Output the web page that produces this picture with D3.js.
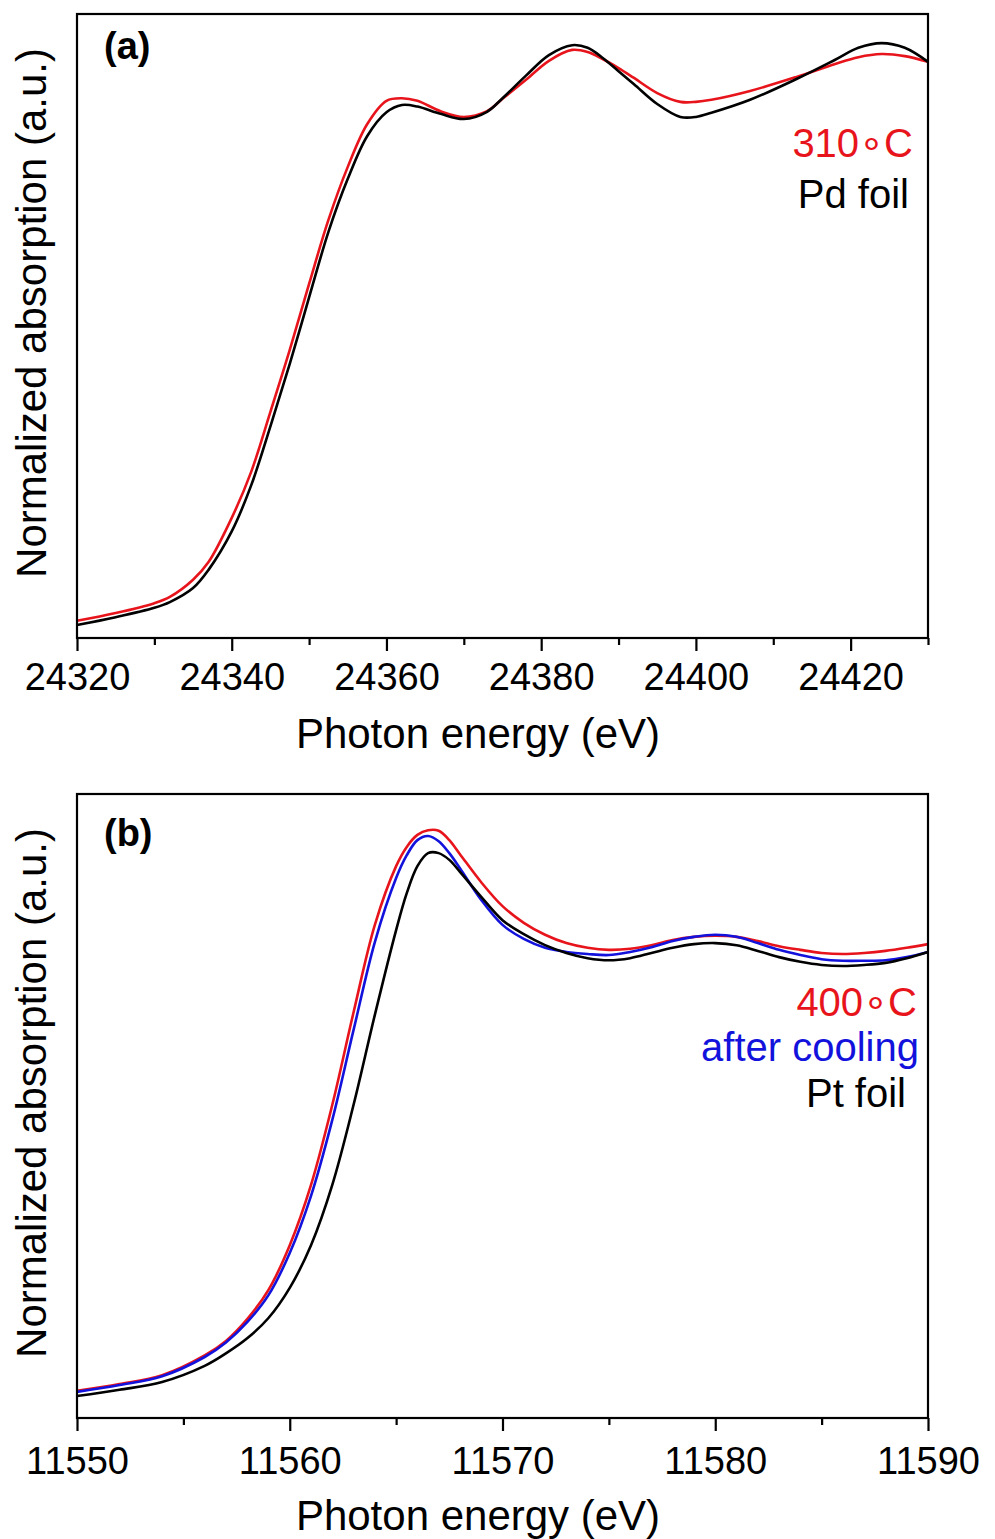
<!DOCTYPE html>
<html>
<head>
<meta charset="utf-8">
<script src="https://cdn.jsdelivr.net/npm/d3@7"></script>
<style>
  body { margin: 0; background: #fff; }
  svg { display: block; font-family: "Liberation Sans", Arial, sans-serif; }
</style>
</head>
<body>
<svg id="chart" width="995" height="1539"></svg>
<script>
// ---- panel (a): Pd K-edge ----
const energyA = [24320, 24325, 24330, 24332, 24335, 24337, 24340, 24342.5, 24345, 24347.5,
  24350, 24352.5, 24355, 24357.5, 24360, 24362, 24364, 24367, 24370, 24373,
  24375, 24378, 24381, 24384, 24386, 24388, 24390, 24392, 24395, 24398,
  24400, 24402, 24407, 24413, 24418, 24421, 24424, 24427, 24430];
const pdFoil = [0.000, 0.015, 0.033, 0.044, 0.071, 0.106, 0.180, 0.268, 0.382, 0.502,
  0.630, 0.756, 0.858, 0.940, 0.986, 1.000, 0.997, 0.983, 0.973, 0.987,
  1.013, 1.056, 1.096, 1.115, 1.110, 1.090, 1.065, 1.040, 1.002, 0.977,
  0.977, 0.985, 1.010, 1.050, 1.087, 1.110, 1.119, 1.110, 1.083];
const pd310 = [0.008, 0.023, 0.042, 0.054, 0.087, 0.121, 0.206, 0.294, 0.410, 0.529,
  0.656, 0.779, 0.881, 0.963, 1.008, 1.013, 1.008, 0.988, 0.977, 0.988,
  1.012, 1.048, 1.085, 1.106, 1.102, 1.088, 1.071, 1.052, 1.023, 1.006,
  1.006, 1.010, 1.027, 1.054, 1.079, 1.092, 1.098, 1.094, 1.083];
const majorTicksA = [24320, 24340, 24360, 24380, 24400, 24420];
const minorTicksA = [24330, 24350, 24370, 24390, 24410, 24430];

// ---- panel (b): Pt L3-edge ----
const energyB = [11550, 11552, 11554, 11556, 11557, 11558, 11559, 11560, 11561, 11562,
  11563, 11564, 11565, 11565.5, 11566, 11566.5, 11567, 11567.5, 11568, 11569,
  11570, 11571, 11572, 11573, 11574, 11575, 11576, 11577, 11578, 11579,
  11580, 11581, 11582, 11583, 11584, 11585, 11586, 11587, 11588, 11589, 11590];
const ptFoil = [0.000, 0.012, 0.027, 0.058, 0.082, 0.111, 0.150, 0.208, 0.290, 0.406,
  0.560, 0.733, 0.896, 0.967, 1.019, 1.044, 1.044, 1.031, 1.008, 0.960,
  0.915, 0.888, 0.867, 0.852, 0.842, 0.838, 0.842, 0.852, 0.862, 0.869,
  0.871, 0.867, 0.856, 0.844, 0.835, 0.829, 0.827, 0.829, 0.833, 0.842, 0.854];
const ptCooled = [0.008, 0.021, 0.038, 0.075, 0.103, 0.142, 0.194, 0.275, 0.385, 0.531,
  0.704, 0.873, 0.996, 1.040, 1.069, 1.077, 1.067, 1.044, 1.015, 0.954,
  0.906, 0.879, 0.862, 0.854, 0.850, 0.848, 0.854, 0.863, 0.875, 0.883,
  0.887, 0.883, 0.871, 0.858, 0.848, 0.840, 0.837, 0.837, 0.838, 0.844, 0.854];
const pt400 = [0.010, 0.023, 0.040, 0.078, 0.106, 0.148, 0.204, 0.290, 0.406, 0.560,
  0.738, 0.906, 1.019, 1.056, 1.079, 1.088, 1.087, 1.069, 1.042, 0.988,
  0.942, 0.910, 0.887, 0.871, 0.862, 0.858, 0.860, 0.867, 0.877, 0.883,
  0.885, 0.883, 0.875, 0.865, 0.858, 0.852, 0.850, 0.852, 0.856, 0.862, 0.869];
const majorTicksB = [11550, 11560, 11570, 11580, 11590];
const minorTicksB = [11555, 11565, 11575, 11585];

const RED = '#e8141c', BLUE = '#1212dc', BLACK = '#000';

const svg = d3.select('#chart');

function drawPanel(p) {
  const x = d3.scaleLinear().domain(p.xDomain).range([p.left, p.right]);
  const y = d3.scaleLinear().domain(p.yDomain).range([p.bottom, p.top]);
  const g = svg.append('g');

  // curves
  const line = d3.line()
    .x(d => x(d[0]))
    .y(d => y(d[1]))
    .curve(d3.curveCatmullRom.alpha(0.5));

  p.series.forEach(s => {
    g.append('path')
      .datum(p.energy.map((e, i) => [e, s.values[i]]))
      .attr('d', line)
      .style('fill', 'none')
      .style('stroke', s.color)
      .style('stroke-width', 2.6)
      .style('stroke-linejoin', 'round');
  });

  // frame
  g.append('rect')
    .attr('x', p.left).attr('y', p.top)
    .attr('width', p.right - p.left).attr('height', p.bottom - p.top)
    .style('fill', 'none').style('stroke', '#000').style('stroke-width', 2.2);

  // bottom axis, major + minor ticks
  const major = g.append('g')
    .attr('transform', 'translate(0,' + p.bottom + ')')
    .call(d3.axisBottom(x).tickValues(p.majorTicks).tickSize(13)
      .tickPadding(p.tickPad).tickFormat(d3.format('d')));
  major.select('.domain').remove();
  major.selectAll('line').style('stroke-width', 2.2);
  major.selectAll('text')
    .style('font-size', '38px').style('fill', '#000')
    .style('font-family', '"Liberation Sans", Arial, sans-serif');

  const minor = g.append('g')
    .attr('transform', 'translate(0,' + p.bottom + ')')
    .call(d3.axisBottom(x).tickValues(p.minorTicks).tickSize(7).tickFormat(''));
  minor.select('.domain').remove();
  minor.selectAll('line').style('stroke-width', 2.2);

  // axis titles
  g.append('text')
    .attr('x', 478).attr('y', p.xTitleY)
    .attr('text-anchor', 'middle')
    .style('font-size', '42px')
    .text('Photon energy (eV)');

  g.append('text')
    .attr('transform', 'translate(46,' + p.yTitleY + ') rotate(-90)')
    .attr('text-anchor', 'middle')
    .style('font-size', '42px')
    .text('Normalized absorption (a.u.)');

  // panel tag
  g.append('text')
    .attr('x', 104).attr('y', p.tagY)
    .style('font-size', '38px').style('font-weight', 'bold')
    .text(p.tag);

  // legend labels
  p.legend.forEach(l => {
    g.append('text')
      .attr('x', l.x).attr('y', l.y)
      .attr('text-anchor', 'end')
      .style('font-size', '40px')
      .style('fill', l.color)
      .text(l.text);
  });
}

drawPanel({
  left: 77, right: 928, top: 14, bottom: 638,
  xDomain: [24320, 24430], yDomain: [-0.025, 1.175],
  energy: energyA,
  series: [
    { values: pd310, color: RED },
    { values: pdFoil, color: BLACK }
  ],
  majorTicks: majorTicksA, minorTicks: minorTicksA,
  tickPad: 12, xTitleY: 748, yTitleY: 313,
  tag: '(a)', tagY: 59,
  legend: [
    { text: '310\u2218C', x: 913, y: 157, color: RED },
    { text: 'Pd foil', x: 909, y: 208, color: BLACK }
  ]
});

drawPanel({
  left: 77, right: 928, top: 794, bottom: 1418,
  xDomain: [11550, 11590], yDomain: [-0.0423, 1.1577],
  energy: energyB,
  series: [
    { values: pt400, color: RED },
    { values: ptCooled, color: BLUE },
    { values: ptFoil, color: BLACK }
  ],
  majorTicks: majorTicksB, minorTicks: minorTicksB,
  tickPad: 16, xTitleY: 1530, yTitleY: 1093,
  tag: '(b)', tagY: 846,
  legend: [
    { text: '400\u2218C', x: 917, y: 1016, color: RED },
    { text: 'after cooling', x: 919, y: 1061, color: BLUE },
    { text: 'Pt foil', x: 906, y: 1107, color: BLACK }
  ]
});
</script>
</body>
</html>
